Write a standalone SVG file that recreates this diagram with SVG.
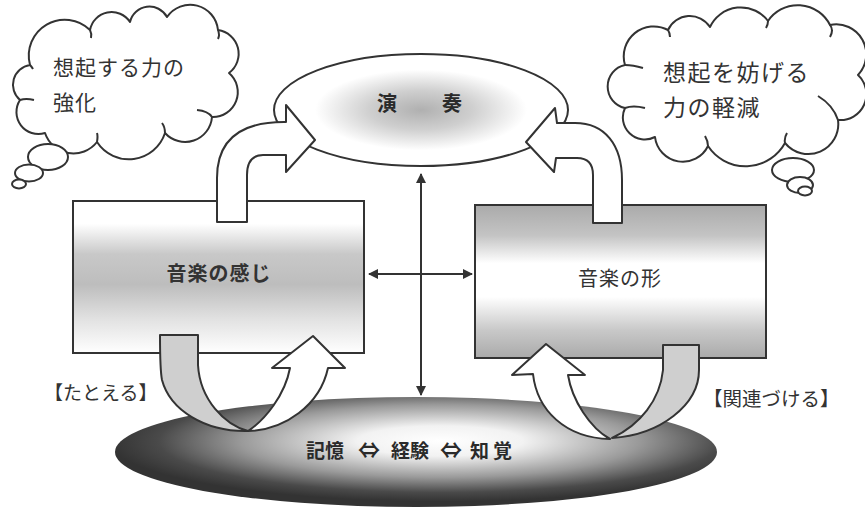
<svg xmlns="http://www.w3.org/2000/svg" width="865" height="509" viewBox="0 0 865 509">
<style>
.ln{fill:none;stroke:#333;stroke-width:2;stroke-linejoin:round}
.wf{fill:#fff;stroke:#333;stroke-width:2;stroke-linejoin:round}
.gf{fill:#cfcfcf;stroke:#333;stroke-width:2;stroke-linejoin:round}
.t{font-family:"Noto Sans CJK JP","Noto Sans",sans-serif;fill:#333}
.tb{font-family:"Noto Sans CJK JP","Noto Sans",sans-serif;fill:#2a2a2a;font-weight:bold}
</style>
<defs>
<radialGradient id="gTop" cx="0.5" cy="0.5" r="0.5">
<stop offset="0" stop-color="#b0b0b0"/>
<stop offset="0.35" stop-color="#cfcfcf"/>
<stop offset="0.72" stop-color="#fff"/>
<stop offset="1" stop-color="#fff"/>
</radialGradient>
<linearGradient id="gLeft" x1="0" y1="0" x2="0" y2="1">
<stop offset="0" stop-color="#fff"/>
<stop offset="0.15" stop-color="#fff"/>
<stop offset="0.35" stop-color="#c8c8c8"/>
<stop offset="0.55" stop-color="#bdbdbd"/>
<stop offset="0.78" stop-color="#e2e2e2"/>
<stop offset="1" stop-color="#fff"/>
</linearGradient>
<linearGradient id="gRight" x1="0" y1="0" x2="0" y2="1">
<stop offset="0" stop-color="#aaa"/>
<stop offset="0.2" stop-color="#c4c4c4"/>
<stop offset="0.38" stop-color="#fff"/>
<stop offset="0.6" stop-color="#fff"/>
<stop offset="0.82" stop-color="#c8c8c8"/>
<stop offset="1" stop-color="#aaa"/>
</linearGradient>
<radialGradient id="gBase" cx="0.54" cy="0.4" r="0.55">
<stop offset="0" stop-color="#fff"/>
<stop offset="0.25" stop-color="#f2f2f2"/>
<stop offset="0.6" stop-color="#9a9a9a"/>
<stop offset="0.85" stop-color="#4a4a4a"/>
<stop offset="1" stop-color="#333"/>
</radialGradient>
<marker id="ah" viewBox="0 0 10 10" refX="9" refY="5" markerWidth="5" markerHeight="5" orient="auto-start-reverse" markerUnits="strokeWidth">
<path d="M0,0 L10,5 L0,10 Z" fill="#333"/>
</marker>
</defs>
<rect width="865" height="509" fill="#fff"/>

<g id="cloud-left">
<path class="wf" d="M30,65 A36,36 0 0 1 90,30 A22,22 0 0 1 130,22 A20,20 0 0 1 167,17 A28,28 0 0 1 218,30 A24,24 0 0 1 229,73 A25,25 0 0 1 212,117 A27,27 0 0 1 165,133 A38,38 0 0 1 97,142 A30,30 0 0 1 45,133 A22,22 0 0 1 20,100 A20,20 0 0 1 30,65 Z"/>
<path class="ln" d="M90,30 q2,4 1,8 M218,30 q2,5 0,9 M212,117 q-4,-6 -15,-7 M165,133 q0,-6 -3,-10 M97,142 q1,-6 0,-9 M20,100 q6,-2 14,0 M30,65 q2,2 3,4"/>
<ellipse class="wf" cx="48" cy="157" rx="20" ry="13"/>
<ellipse class="wf" cx="29" cy="173" rx="14" ry="8.5"/>
<ellipse class="wf" cx="19" cy="184" rx="7" ry="4.5"/>
<text class="t" x="53" y="75" font-size="21" letter-spacing="1">想起する力の</text>
<text class="t" x="53" y="110" font-size="21" letter-spacing="1">強化</text>
</g>

<g id="cloud-right">
<path class="wf" d="M625,65 A30,30 0 0 1 668,30 A24,24 0 0 1 710,27 A34,34 0 0 1 768,21 A36,36 0 0 1 830,25 A30,30 0 0 1 858,75 A26,26 0 0 1 838,120 A30,30 0 0 1 785,143 A45,45 0 0 1 708,146 A28,28 0 0 1 655,137 A22,22 0 0 1 625,108 A22,22 0 0 1 625,65 Z"/>
<path class="ln" d="M625,65 q8,0 18,3 M668,30 q2,3 2,7 M768,21 q0,4 -2,7 M830,25 q4,5 0,12 M838,120 q-5,-15 -20,-24 M785,143 q-1,-5 2,-10 M708,146 q0,-5 -3,-10 M625,108 q8,-3 20,0"/>
<ellipse class="wf" cx="793" cy="170" rx="21" ry="12"/>
<ellipse class="wf" cx="800" cy="185" rx="13" ry="8"/>
<ellipse class="wf" cx="805" cy="191" rx="7" ry="4.5"/>
<text class="t" x="663" y="81" font-size="23" letter-spacing="1.5">想起を妨げる</text>
<text class="t" x="663" y="116" font-size="23" letter-spacing="1.5">力の軽減</text>
</g>

<g id="node-performance">
<ellipse cx="421" cy="110" rx="147" ry="56" fill="url(#gTop)" stroke="#333" stroke-width="2"/>
<text class="tb" y="111" font-size="20"><tspan x="377">演</tspan><tspan x="442">奏</tspan></text>
</g>

<g id="node-feeling">
<rect x="73" y="201" width="291" height="152" fill="url(#gLeft)" stroke="#333" stroke-width="2"/>
<text class="t" x="219" y="281" font-size="20" text-anchor="middle" font-weight="bold" letter-spacing="1">音楽の感じ</text>
</g>

<g id="node-form">
<rect x="475" y="205" width="291" height="153" fill="url(#gRight)" stroke="#333" stroke-width="2"/>
<text class="t" x="620" y="286" font-size="20" text-anchor="middle" letter-spacing="1">音楽の形</text>
</g>

<g id="node-base">
<ellipse cx="416" cy="452" rx="301" ry="55" fill="url(#gBase)"/>
<text class="tb" y="458" font-size="19"><tspan x="306">記憶</tspan><tspan x="358" font-size="22">⇔</tspan><tspan x="391">経験</tspan><tspan x="440" font-size="22">⇔</tspan><tspan x="470" letter-spacing="4">知覚</tspan></text>
</g>

<g id="connectors">
<path class="wf" d="M217,222 L217,178 C217,140 240,122 284,122 L286,122 L286,105 L315,140 L286,172 L286,155 L263,155 C252,155 247,162 247,175 L247,222 Z"/>
<path class="wf" d="M593,223 L593,175 C593,163 587,158 577,158 L556,158 L554,172 L526,142 L555,108 L557,123 L575,123 C605,123 622,145 622,180 L622,223 Z"/>
<path class="gf" d="M160,335 L198,335 L198,365 C200,400 225,425 248,431 C205,432 170,410 162,380 C160,370 160,360 160,335 Z"/>
<path class="wf" d="M248,431 C285,430 320,405 328,368 L345,368 L313,336 L272,368 L290,368 C285,395 265,420 248,431 Z"/>
<path class="gf" d="M663,345 L699,345 L699,370 C699,405 660,435 612,438 C640,425 660,400 663,370 Z"/>
<path class="wf" d="M610,439 C565,438 537,410 533,374 L512,375 L546,344 L585,375 L568,375 C572,400 590,428 610,439 Z"/>
<line class="ln" x1="421" y1="174" x2="421" y2="395" marker-start="url(#ah)" marker-end="url(#ah)"/>
<line class="ln" x1="369" y1="274" x2="472" y2="274" marker-start="url(#ah)" marker-end="url(#ah)"/>
<text class="t" x="44" y="400" font-size="19">【たとえる】</text>
<text class="t" x="703" y="406" font-size="19.5">【関連づける】</text>
</g>
</svg>
